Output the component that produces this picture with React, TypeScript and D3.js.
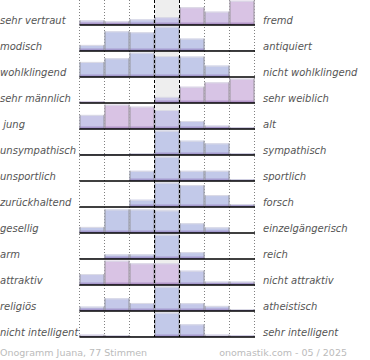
import React from "react";
import * as d3 from "d3";

const leftLabels = ["sehr vertraut", "modisch", "wohlklingend", "sehr männlich", " jung", "unsympathisch", "unsportlich", "zurückhaltend", "gesellig", "arm", "attraktiv", "religiös", "nicht intelligent"];
const rightLabels = ["fremd", "antiquiert", "nicht wohlklingend", "sehr weiblich", "alt", "sympathisch", "sportlich", "forsch", "einzelgängerisch", "reich", "nicht attraktiv", "atheistisch", "sehr intelligent"];

// relative bar heights per row (max = 100), 7 bins each
const values: number[][] = [
  [19, 15, 23, 32, 73, 55, 100],
  [25, 81, 77, 100, 51, 4, 4],
  [62, 77, 100, 86, 84, 47, 0],
  [6, 0, 0, 25, 67, 85, 100],
  [58, 100, 92, 78, 33, 14, 7],
  [2, 2, 8, 100, 59, 48, 7],
  [0, 0, 42, 100, 42, 42, 7],
  [0, 0, 30, 100, 90, 49, 12],
  [25, 97, 97, 93, 40, 23, 0],
  [4, 19, 19, 100, 28, 0, 0],
  [45, 100, 89, 89, 59, 14, 14],
  [18, 52, 33, 100, 32, 21, 8],
  [9, 8, 4, 100, 52, 9, 6],
];

// share of pink tint per bar (0 = blue, 1 = pink)
const pinkShare: number[][] = [
  [0.4, 0.5, 0.1, 0.3, 0.9, 0.7, 1],
  [0, 0, 0, 0, 0, 0, 0],
  [0, 0, 0, 0, 0, 0, 0],
  [0.8, 0, 0, 0.4, 0.9, 0.9, 1],
  [0.3, 1, 0.9, 0.3, 0.1, 0.3, 0.3],
  [0, 0, 0, 0, 0, 0, 0],
  [0, 0, 0, 0, 0, 0, 0],
  [0, 0, 0, 0, 0, 0, 0],
  [0, 0, 0, 0, 0, 0, 0],
  [0, 0, 0, 0, 0, 0, 0],
  [0.2, 1, 0.9, 0.9, 0.1, 0.2, 0.2],
  [0.1, 0.1, 0.1, 0, 0.1, 0.1, 0.1],
  [0.5, 0.5, 0.3, 0, 0.1, 0.3, 0.3],
];

const bins = [0, 1, 2, 3, 4, 5, 6];
const footerLeft = "Onogramm Juana, 77 Stimmen";
const footerRight = "onomastik.com - 05 / 2025";

export default function App() {
  const W = 370, H = 360;
  const x0 = 79.5, x1 = 254.5;
  const rowH = 26, firstBase = 25;
  const x = d3.scaleBand<number>().domain(bins).range([x0, x1]).padding(0);
  const h = d3.scaleLinear().domain([0, 100]).range([0, 24.3]);
  const rowBase = (i: number) => firstBase + rowH * i;
  const lastBase = rowBase(values.length - 1);
  const colorMix = d3.interpolateRgb("#c2c9e9", "#d9c3e4");
  const darkMix = d3.interpolateRgb("#a59bcf", "#b395c8");
  const bw = x.bandwidth();
  const font = "DejaVu Sans, Verdana, sans-serif";

  return (
    <svg width={W} height={H} style={{ position: "absolute", left: 0, top: 0, background: "#fff" }}>
      <rect x={x(3)} y={0} width={bw} height={lastBase} fill="#eeeeee" />
      {[0, 1, 2, 5, 6, 7].map((k) => {
        const xv = k < 7 ? x(k)! : x1;
        return <line key={k} x1={xv} x2={xv} y1={0} y2={lastBase} stroke="#808080" strokeWidth={1} strokeDasharray="1,2" />;
      })}
      {values.map((row, i) => (
        <g key={i}>
          {row.map((v, j) => {
            if (v <= 0) return null;
            const bh = h(v);
            const xb = x(j)!;
            const yb = rowBase(i) - bh;
            const c = colorMix(pinkShare[i][j]);
            const strip = Math.min(2.5, bh);
            return (
              <g key={j}>
                <rect x={xb} y={yb} width={bw} height={bh} fill={c} />
                <rect x={xb} y={rowBase(i) - strip} width={bw} height={strip} fill={darkMix(pinkShare[i][j])} />
                <line x1={xb} x2={xb + bw} y1={yb + 0.5} y2={yb + 0.5} stroke="#dcdce6" strokeWidth={1} />
                <line x1={xb + 0.5} x2={xb + 0.5} y1={yb} y2={rowBase(i)} stroke="#8a8a8a" strokeOpacity={0.8} strokeWidth={1} />
                <line x1={xb + bw - 0.5} x2={xb + bw - 0.5} y1={yb} y2={rowBase(i)} stroke="#8a8a8a" strokeOpacity={0.8} strokeWidth={1} />
              </g>
            );
          })}
        </g>
      ))}
      {[3, 4].map((k) => (
        <line key={k} x1={x(k)!} x2={x(k)!} y1={0} y2={lastBase} stroke="#000" strokeWidth={1} strokeDasharray="3,2" />
      ))}
      {values.map((_, i) => (
        <line key={i} x1={x0} x2={x1 + 0.5} y1={rowBase(i)} y2={rowBase(i)} stroke="#000" strokeWidth={1.6} />
      ))}
      {leftLabels.map((t, i) => (
        <text key={i} x={0} y={rowBase(i) - 1.5} fontFamily={font} fontStyle="italic" fontSize={10} fill="#555" style={{ whiteSpace: "pre" }}>
          {t}
        </text>
      ))}
      {rightLabels.map((t, i) => (
        <text key={i} x={263} y={rowBase(i) - 1.5} fontFamily={font} fontStyle="italic" fontSize={10} fill="#555">
          {t}
        </text>
      ))}
      <text x={0} y={356} fontFamily={font} fontSize={9.5} fill="#bbb">{footerLeft}</text>
      <text x={347} y={356} textAnchor="end" fontFamily={font} fontSize={9.5} fill="#bbb">{footerRight}</text>
    </svg>
  );
}
